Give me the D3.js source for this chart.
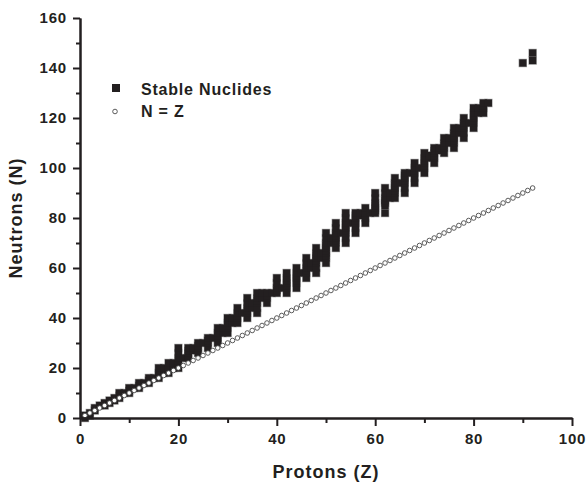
<!DOCTYPE html>
<html>
<head>
<meta charset="utf-8">
<script src="https://cdn.jsdelivr.net/npm/d3@7"></script>
<style>
    body { margin: 0; background: #fff; }
    text { font-family: "Liberation Sans", Arial, sans-serif; font-weight: bold; fill: #231f20; }
    .axis path, .axis line { stroke: #231f20; stroke-width: 2; }
    .axis text { font-size: 15px; letter-spacing: 0.8px; }
</style>
</head>
<body>
<div id="chart"></div>
<script>
// stable (and primordial) nuclides: neutron numbers for Z = 1 .. 83
var protons = [1, 2, 3, 4, 5, 6, 7, 8, 9, 10, 11, 12, 13, 14, 15, 16, 17, 18, 19, 20,
    21, 22, 23, 24, 25, 26, 27, 28, 29, 30, 31, 32, 33, 34, 35, 36, 37, 38, 39, 40,
    41, 42, 43, 44, 45, 46, 47, 48, 49, 50, 51, 52, 53, 54, 55, 56, 57, 58, 59, 60,
    61, 62, 63, 64, 65, 66, 67, 68, 69, 70, 71, 72, 73, 74, 75, 76, 77, 78, 79, 80,
    81, 82, 83];
var neutrons = [
    [0, 1], [1, 2], [3, 4], [5], [5, 6], [6, 7], [7, 8], [8, 9, 10], [10], [10, 11, 12],
    [12], [12, 13, 14], [14], [14, 15, 16], [16], [16, 17, 18, 20], [18, 20], [18, 20, 22], [20, 21, 22], [20, 22, 23, 24, 26, 28],
    [24], [24, 25, 26, 27, 28], [27, 28], [26, 28, 29, 30], [30], [28, 30, 31, 32], [32], [30, 32, 33, 34, 36], [34, 36], [34, 36, 37, 38, 40],
    [38, 40], [38, 40, 41, 42, 44], [42], [40, 42, 43, 44, 46, 48], [44, 46], [42, 44, 46, 47, 48, 50], [48, 50], [46, 48, 49, 50], [50], [50, 51, 52, 54, 56],
    [52], [50, 52, 53, 54, 55, 56, 58], [], [52, 54, 55, 56, 57, 58, 60], [58], [56, 58, 59, 60, 62, 64], [60, 62], [58, 60, 62, 63, 64, 65, 66, 68], [64, 66], [62, 64, 65, 66, 67, 68, 69, 70, 72, 74],
    [70, 72], [68, 70, 71, 72, 73, 74, 76, 78], [74], [70, 72, 74, 75, 76, 77, 78, 80, 82], [78], [74, 76, 78, 79, 80, 81, 82], [81, 82], [78, 80, 82, 84], [82], [82, 83, 84, 85, 86, 88, 90],
    [], [82, 85, 86, 87, 88, 90, 92], [88, 90], [88, 90, 91, 92, 93, 94, 96], [94], [90, 92, 94, 95, 96, 97, 98], [98], [94, 96, 98, 99, 100, 102], [100], [98, 100, 101, 102, 103, 104, 106],
    [104, 105], [102, 104, 105, 106, 107, 108], [107, 108], [106, 108, 109, 110, 112], [110, 112], [108, 110, 111, 112, 113, 114, 116], [114, 116], [112, 114, 116, 117, 118, 120], [118], [116, 118, 119, 120, 121, 122, 124],
    [122, 124], [122, 124, 125, 126], [126]
];
// long-lived actinides (Th, U)
var heavyZ = [90, 92, 92];
var heavyN = [142, 143, 146];

// the N = Z line
var lineZ = [1, 2, 3, 4, 5, 6, 7, 8, 9, 10, 11, 12, 13, 14, 15, 16, 17, 18, 19, 20,
    21, 22, 23, 24, 25, 26, 27, 28, 29, 30, 31, 32, 33, 34, 35, 36, 37, 38, 39, 40,
    41, 42, 43, 44, 45, 46, 47, 48, 49, 50, 51, 52, 53, 54, 55, 56, 57, 58, 59, 60,
    61, 62, 63, 64, 65, 66, 67, 68, 69, 70, 71, 72, 73, 74, 75, 76, 77, 78, 79, 80,
    81, 82, 83, 84, 85, 86, 87, 88, 89, 90, 91, 92];

var xTicks = [0, 20, 40, 60, 80, 100];
var yTicks = [0, 20, 40, 60, 80, 100, 120, 140, 160];

function init() {
    var w = 586;
    var h = 483;

    var svg = d3.select("#chart")
        .append("svg")
        .attr("width", w)
        .attr("height", h);

    var xScale = d3.scaleLinear().domain([0, 100]).range([80, 572]);
    var yScale = d3.scaleLinear().domain([0, 160]).range([418, 18]);

    var stable = [];
    protons.forEach(function (z, i) {
        neutrons[i].forEach(function (n) { stable.push({ z: z, n: n }); });
    });
    heavyZ.forEach(function (z, i) { stable.push({ z: z, n: heavyN[i] }); });

    var sq = 7.2;
    // grey halo underneath, then solid squares on top
    svg.append("g").selectAll("rect")
        .data(stable)
        .enter().append("rect")
        .attr("x", function (d) { return xScale(d.z) - sq / 2 - 0.6; })
        .attr("y", function (d) { return yScale(d.n) - sq / 2 - 0.6; })
        .attr("width", sq + 1.2)
        .attr("height", sq + 1.2)
        .style("fill", "#9a9a9a");
    svg.append("g").selectAll("rect")
        .data(stable)
        .enter().append("rect")
        .attr("x", function (d) { return xScale(d.z) - sq / 2; })
        .attr("y", function (d) { return yScale(d.n) - sq / 2; })
        .attr("width", sq)
        .attr("height", sq)
        .style("fill", "#231f20");

    svg.append("g").selectAll("circle")
        .data(lineZ)
        .enter().append("circle")
        .attr("cx", function (d) { return xScale(d); })
        .attr("cy", function (d) { return yScale(d); })
        .attr("r", 2.3)
        .style("fill", "#fff")
        .style("stroke", "#4a4a4a")
        .style("stroke-width", 0.9);

    // axes: major + minor ticks
    svg.append("g").attr("class", "axis")
        .attr("transform", "translate(0,418)")
        .call(d3.axisBottom(xScale).tickValues(xTicks).tickSize(8).tickSizeOuter(0).tickPadding(7));
    svg.append("g").attr("class", "axis")
        .attr("transform", "translate(0,418)")
        .call(d3.axisBottom(xScale).tickValues([10, 30, 50, 70, 90]).tickSize(5).tickSizeOuter(0).tickFormat(""));

    svg.append("g").attr("class", "axis")
        .attr("transform", "translate(80,0)")
        .call(d3.axisLeft(yScale).tickValues(yTicks).tickSize(7).tickSizeOuter(0).tickPadding(6));
    svg.append("g").attr("class", "axis")
        .attr("transform", "translate(80,0)")
        .call(d3.axisLeft(yScale).tickValues([10, 30, 50, 70, 90, 110, 130, 150]).tickSize(4).tickSizeOuter(0).tickFormat(""));

    // axis titles
    svg.append("text")
        .attr("x", 326)
        .attr("y", 478)
        .attr("text-anchor", "middle")
        .style("font-size", "18px")
        .style("letter-spacing", "1px")
        .text("Protons (Z)");

    svg.append("text")
        .attr("transform", "translate(22,218) rotate(-90)")
        .attr("text-anchor", "middle")
        .style("font-size", "18px")
        .style("letter-spacing", "1px")
        .text("Neutrons (N)");

    // legend
    svg.append("rect")
        .attr("x", 112).attr("y", 84)
        .attr("width", 8).attr("height", 8)
        .style("fill", "#231f20");
    svg.append("text")
        .attr("x", 141).attr("y", 95)
        .style("font-size", "16px")
        .style("letter-spacing", "0.8px")
        .text("Stable Nuclides");

    svg.append("circle")
        .attr("cx", 115).attr("cy", 111.5)
        .attr("r", 2.3)
        .style("fill", "#fff")
        .style("stroke", "#4a4a4a")
        .style("stroke-width", 0.9);
    svg.append("text")
        .attr("x", 141).attr("y", 117)
        .style("font-size", "16px")
        .style("letter-spacing", "0.8px")
        .text("N = Z");
}

window.onload = init;
</script>
</body>
</html>
